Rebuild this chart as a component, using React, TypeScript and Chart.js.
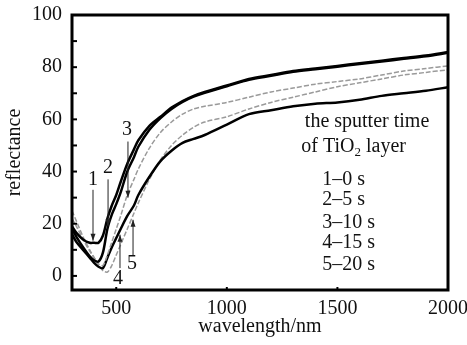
import React, { useEffect, useRef } from "react";
import { Chart, registerables } from "chart.js";

Chart.register(...registerables);

const wavelengths = [300, 320, 350, 380, 400, 420, 440, 460, 480, 500, 520, 550, 580, 600, 650, 700, 750, 800, 850, 900, 1000, 1100, 1200, 1300, 1400, 1500, 1600, 1700, 1800, 1900, 2000];
const curve0s = [19, 16.5, 14, 12.7, 12.7, 12.7, 15.5, 22, 27, 31, 36, 43, 48.5, 52, 57.5, 61, 64.5, 67, 69, 70.5, 73, 75.5, 77, 78.5, 79.5, 80.5, 81.5, 82.5, 83.5, 84.5, 85.8];
const curve5s = [18, 15, 11, 7.5, 6, 5.5, 9, 18, 23.5, 27.5, 32, 40, 45.5, 49.5, 56, 60.5, 64, 66.7, 68.7, 70.2, 72.7, 75.2, 76.7, 78.2, 79.2, 80.2, 81.2, 82.2, 83.2, 84.2, 85.5];
const curve10s = [25, 21, 15, 10, 7, 4.5, 4, 8, 13, 18, 23, 31, 37, 41, 49, 55, 59, 62, 64, 65, 66.5, 68.5, 70.5, 72, 73.5, 74.5, 75.5, 77, 78.5, 79.5, 80.5];
const curve15s = [16, 13, 10, 7, 5, 3.5, 3, 7, 11, 14.5, 18, 23, 27, 31, 38, 44, 48, 51, 52.5, 54, 58, 62, 63.5, 65, 66, 66.5, 67.5, 69, 70, 71, 72.3];
const curve20s = [22, 19, 14, 9.5, 7, 4.5, 2, 1.5, 4, 8, 12, 18, 24, 28, 37, 44.5, 50, 54, 57, 59, 61, 64, 66.5, 68.5, 70.5, 72.5, 74, 75.5, 77, 78, 79];

const xTicks = [500, 1000, 1500, 2000];
const yTicks = [0, 10, 20, 30, 40, 50, 60, 70, 80, 90, 100];

const curveNumbers = ["1", "2", "3", "4", "5"];
const arrowX = [395, 463, 553, 517, 576];
const arrowFrom = [33, 37, 51.5, 3, 8];
const arrowTo = [13.5, 19, 30, 15.8, 21.5];
const numberX = [395, 463, 549, 508, 571];
const numberY = [37, 41.5, 56, -1, 4.5];

const legendTitle1 = "the sputter time";
const legendTitle2a = "of TiO";
const legendTitle2sub = "2";
const legendTitle2b = " layer";
const legendItems = ["1\u20130 s", "2\u20135 s", "3\u201310 s", "4\u201315 s", "5\u201320 s"];
const legendItemY = [36.9, 29.2, 20.4, 12.7, 4.2];

const FONT = "'Liberation Serif', 'Times New Roman', serif";

const pts = (ys: number[]) => wavelengths.map((x, i) => ({ x, y: ys[i] }));

const overlay = {
  id: "overlay",
  afterDraw(chart: any) {
    const { ctx, chartArea: a, scales } = chart;
    const xs = scales.x;
    const ys = scales.y;
    ctx.save();
    ctx.strokeStyle = "#000";
    ctx.lineWidth = 3;
    ctx.strokeRect(a.left, a.top, a.right - a.left, a.bottom - a.top);
    ctx.lineWidth = 2;
    yTicks.forEach((v) => {
      const y = ys.getPixelForValue(v);
      ctx.beginPath();
      ctx.moveTo(a.left, y);
      ctx.lineTo(a.left + 5, y);
      ctx.stroke();
    });
    xTicks.slice(0, 3).forEach((v) => {
      const x = xs.getPixelForValue(v);
      ctx.beginPath();
      ctx.moveTo(x, a.bottom);
      ctx.lineTo(x, a.bottom - 3);
      ctx.stroke();
    });
    ctx.strokeStyle = "#222";
    ctx.lineWidth = 1;
    ctx.font = `20px ${FONT}`;
    ctx.textAlign = "center";
    ctx.textBaseline = "middle";
    curveNumbers.forEach((n, i) => {
      const x = xs.getPixelForValue(arrowX[i]);
      const y0 = ys.getPixelForValue(arrowFrom[i]);
      const y1 = ys.getPixelForValue(arrowTo[i]);
      ctx.beginPath();
      ctx.moveTo(x, y0);
      ctx.lineTo(x, y1);
      ctx.stroke();
      const dir = y1 > y0 ? 1 : -1;
      ctx.fillStyle = "#222";
      ctx.beginPath();
      ctx.moveTo(x, y1);
      ctx.lineTo(x - 2.5, y1 - dir * 7);
      ctx.lineTo(x + 2.5, y1 - dir * 7);
      ctx.closePath();
      ctx.fill();
      ctx.fillStyle = "#111";
      ctx.fillText(n, xs.getPixelForValue(numberX[i]), ys.getPixelForValue(numberY[i]));
    });
    ctx.fillStyle = "#111";
    ctx.textBaseline = "middle";
    ctx.textAlign = "center";
    ctx.fillText(legendTitle1, xs.getPixelForValue(1634), ys.getPixelForValue(59));
    ctx.textAlign = "left";
    let lx = xs.getPixelForValue(1337);
    const ly = ys.getPixelForValue(49.6);
    ctx.fillText(legendTitle2a, lx, ly);
    lx += ctx.measureText(legendTitle2a).width;
    ctx.font = `13px ${FONT}`;
    ctx.fillText(legendTitle2sub, lx, ly + 6);
    lx += ctx.measureText(legendTitle2sub).width;
    ctx.font = `20px ${FONT}`;
    ctx.fillText(legendTitle2b, lx, ly);
    legendItems.forEach((t, i) => {
      ctx.fillText(t, xs.getPixelForValue(1432), ys.getPixelForValue(legendItemY[i]));
    });
    ctx.restore();
  },
};

export default function App() {
  const ref = useRef<HTMLCanvasElement>(null);
  useEffect(() => {
    if (!ref.current) return;
    const black = { borderColor: "#000", borderWidth: 2.5, pointRadius: 0, tension: 0.3, fill: false };
    const grey = { borderColor: "#9a9a9a", borderWidth: 1.5, borderDash: [5, 2], pointRadius: 0, tension: 0.3, fill: false };
    const chart = new Chart(ref.current, {
      type: "line",
      data: {
        datasets: [
          { label: "1-0 s", data: pts(curve0s), ...black },
          { label: "2-5 s", data: pts(curve5s), ...black },
          { label: "3-10 s", data: pts(curve10s), ...grey },
          { label: "4-15 s", data: pts(curve15s), ...black },
          { label: "5-20 s", data: pts(curve20s), ...grey },
        ],
      },
      options: {
        animation: false,
        responsive: true,
        maintainAspectRatio: false,
        layout: { padding: { top: 15, right: 19, left: 0, bottom: 0 } },
        plugins: { legend: { display: false }, tooltip: { enabled: false } },
        scales: {
          x: {
            type: "linear",
            min: 300,
            max: 2000,
            grid: { display: false, drawTicks: false },
            border: { display: false },
            afterBuildTicks: (s: any) => {
              s.ticks = xTicks.map((v) => ({ value: v }));
            },
            afterFit: (s: any) => {
              s.height = 55;
              s.paddingLeft = 0;
              s.paddingRight = 0;
            },
            ticks: {
              color: "#111",
              font: { family: FONT, size: 20 },
              padding: 7,
              maxRotation: 0,
              callback: (v: any) => String(v),
            },
            title: { display: true, text: "wavelength/nm", color: "#111", font: { family: FONT, size: 20 }, padding: { top: 2, bottom: 6 } },
          },
          y: {
            type: "linear",
            min: -5.4,
            max: 100,
            grid: { display: false, drawTicks: false },
            border: { display: false },
            afterBuildTicks: (s: any) => {
              s.ticks = yTicks.map((v) => ({ value: v }));
            },
            afterFit: (s: any) => {
              s.width = 72;
              s.paddingTop = 0;
              s.paddingBottom = 0;
            },
            ticks: {
              color: "#111",
              font: { family: FONT, size: 20 },
              padding: 10,
              callback: (v: any) => (Number(v) % 20 === 0 ? String(v) : ""),
            },
            title: { display: true, text: "reflectance", color: "#111", font: { family: FONT, size: 20 }, padding: { top: 3, bottom: 0 } },
          },
        },
      },
      plugins: [overlay],
    });
    return () => chart.destroy();
  }, []);
  return (
    <div style={{ position: "absolute", left: 0, top: 0, width: 467, height: 345, background: "#fff" }}>
      <canvas ref={ref} />
    </div>
  );
}
